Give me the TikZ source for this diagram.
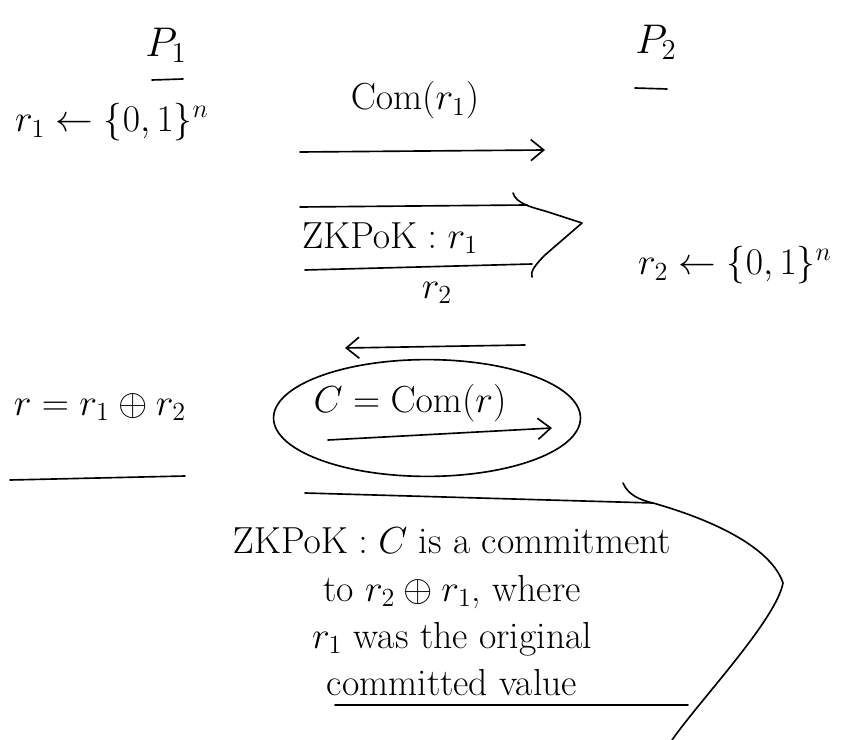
\documentclass[tikz,border=0pt]{standalone}
\usepackage{amsmath,amssymb}
\usepackage{tikz}
\usetikzlibrary{arrows.meta,shapes.geometric}

\begin{document}
\begin{tikzpicture}[x=0.03cm, y=-0.03cm, line width=1.4pt, line cap=round, line join=round,
    every node/.style={font=\huge, scale=1.55},
    msg/.style={-{Straight Barb[length=11pt,width=18pt]}}]
      \useasboundingbox (0,0) rectangle (842,740);
      % parties
      \node[scale=1.1] (pone) at (166,45) {$P_1$};
      \node[scale=1.1] (ptwo) at (656,42) {$P_2$};
      \draw (152,80) -- (183,79);
      \draw (635,88) -- (667,89);
      % coin tosses
      \node (rone) at (112,122) {$r_1 \leftarrow \{0,1\}^n$};
      \node (rtwo) at (735,265) {$r_2 \leftarrow \{0,1\}^n$};
      % commitment to r1
      \node (comone) at (415,100) {$\mathrm{Com}(r_1)$};
      \coordinate (cs) at (300,152);
      \coordinate (ce) at (545,150);
      \draw[msg] (cs) -- (ce);
      % first proof, drawn as a wide arrow
      \node (zkone) at (390,238) {$\mathrm{ZKPoK} : r_1$};
      \coordinate (zt) at (300,207);
      \coordinate (zb) at (305,270);
      \coordinate (ztip) at (582,223);
      \draw (zt) -- (527,205);
      \draw (zb) -- (532,264);
      \draw (513,193) .. controls (516,203) and (530,207) .. (545,211) -- (ztip)
            -- (545,255) .. controls (535,265) and (530,272) .. (532,277);
      % r2 sent back
      \node (rlab) at (437,293) {$r_2$};
      \coordinate (rs) at (525,345);
      \coordinate (re) at (345,348);
      \draw[msg] (rs) -- (re);
      % combined value
      \node (rsum) at (100,407) {$r = r_1 \oplus r_2$};
      \draw (10,480) -- (185,476);
      \node[draw, ellipse, inner sep=0pt, minimum width=5.94cm, minimum height=2.26cm]
        (oval) at (427,418) {};
      \node (cdef) at (410,403) {$C = \mathrm{Com}(r)$};
      \coordinate (ds) at (328,440);
      \coordinate (de) at (552,428);
      \draw[msg] (ds) -- (de);
      % second proof, drawn as a wide arrow
      \node[align=center, font={\fontsize{20.74}{26}\selectfont}] (zktwo) at (452,612)
        {$\mathrm{ZKPoK} : C$ is a commitment\\
         to $r_2 \oplus r_1$, where\\
         $r_1$ was the original\\
         committed value};
      \coordinate (wt) at (305,493);
      \coordinate (wb) at (335,705);
      \coordinate (wtip) at (783,583);
      \draw (wt) -- (653,503);
      \draw (wb) -- (688,705);
      \draw (623,483) .. controls (628,495) and (640,500) .. (653,503)
            .. controls (720,522) and (772,550) .. (wtip)
            .. controls (776,620) and (700,700) .. (672,740);
\end{tikzpicture}
\end{document}
